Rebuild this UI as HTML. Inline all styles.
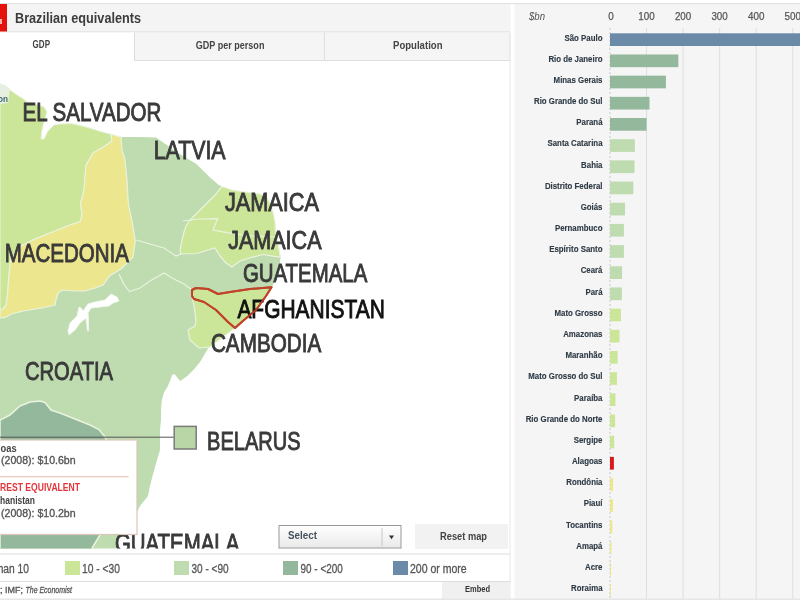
<!DOCTYPE html><html><head><meta charset="utf-8"><title>Brazilian equivalents</title><style>html,body{margin:0;padding:0;background:#fff;width:800px;height:600px;overflow:hidden}svg{display:block}text{font-family:"Liberation Sans",Arial,sans-serif}</style></head><body>
<svg width="800" height="600" viewBox="0 0 800 600">
<defs><clipPath id="mapclip"><rect x="0" y="61" width="509.5" height="487.5"/></clipPath><linearGradient id="selg" x1="0" y1="0" x2="0" y2="1"><stop offset="0" stop-color="#ffffff"/><stop offset="1" stop-color="#e9e9e9"/></linearGradient></defs>
<rect x="0" y="0" width="800" height="600" fill="#ffffff"/>
<rect x="514.5" y="4" width="285.5" height="596" fill="#f5f5f5"/>
<rect x="646.05" y="28" width="1" height="572" fill="#dedede"/>
<rect x="682.60" y="28" width="1" height="572" fill="#dedede"/>
<rect x="719.15" y="28" width="1" height="572" fill="#dedede"/>
<rect x="755.70" y="28" width="1" height="572" fill="#dedede"/>
<rect x="792.25" y="28" width="1" height="572" fill="#dedede"/>
<line x1="610.0" y1="28" x2="610.0" y2="600" stroke="#c9c9c9" stroke-width="1" stroke-dasharray="2,2"/>
<text x="529" y="20" font-size="11" font-style="italic" fill="#555" textLength="16" lengthAdjust="spacingAndGlyphs">$bn</text>
<text x="611.0" y="20" font-size="11.2" fill="#555" stroke="#555" stroke-width="0.25" text-anchor="middle" textLength="5.5" lengthAdjust="spacingAndGlyphs">0</text>
<text x="646.5" y="20" font-size="11.2" fill="#555" stroke="#555" stroke-width="0.25" text-anchor="middle" textLength="16.4" lengthAdjust="spacingAndGlyphs">100</text>
<text x="683.1" y="20" font-size="11.2" fill="#555" stroke="#555" stroke-width="0.25" text-anchor="middle" textLength="16.4" lengthAdjust="spacingAndGlyphs">200</text>
<text x="719.6" y="20" font-size="11.2" fill="#555" stroke="#555" stroke-width="0.25" text-anchor="middle" textLength="16.4" lengthAdjust="spacingAndGlyphs">300</text>
<text x="756.2" y="20" font-size="11.2" fill="#555" stroke="#555" stroke-width="0.25" text-anchor="middle" textLength="16.4" lengthAdjust="spacingAndGlyphs">400</text>
<text x="792.8" y="20" font-size="11.2" fill="#555" stroke="#555" stroke-width="0.25" text-anchor="middle" textLength="16.4" lengthAdjust="spacingAndGlyphs">500</text>
<rect x="610.0" y="33.30" width="195.18" height="12.7" fill="#6a8aa8"/>
<text x="602.5" y="40.50" font-size="9.5" font-weight="bold" fill="#2f3b45" stroke="#2f3b45" stroke-width="0.15" text-anchor="end" textLength="38.0" lengthAdjust="spacingAndGlyphs">São Paulo</text>
<rect x="610.0" y="54.48" width="68.35" height="12.7" fill="#94b89c"/>
<text x="602.5" y="61.68" font-size="9.5" font-weight="bold" fill="#2f3b45" stroke="#2f3b45" stroke-width="0.15" text-anchor="end" textLength="54.1" lengthAdjust="spacingAndGlyphs">Rio de Janeiro</text>
<rect x="610.0" y="75.66" width="55.92" height="12.7" fill="#94b89c"/>
<text x="602.5" y="82.86" font-size="9.5" font-weight="bold" fill="#2f3b45" stroke="#2f3b45" stroke-width="0.15" text-anchor="end" textLength="48.9" lengthAdjust="spacingAndGlyphs">Minas Gerais</text>
<rect x="610.0" y="96.84" width="39.47" height="12.7" fill="#94b89c"/>
<text x="602.5" y="104.04" font-size="9.5" font-weight="bold" fill="#2f3b45" stroke="#2f3b45" stroke-width="0.15" text-anchor="end" textLength="68.5" lengthAdjust="spacingAndGlyphs">Rio Grande do Sul</text>
<rect x="610.0" y="118.02" width="36.55" height="12.7" fill="#94b89c"/>
<text x="602.5" y="125.22" font-size="9.5" font-weight="bold" fill="#2f3b45" stroke="#2f3b45" stroke-width="0.15" text-anchor="end" textLength="26.2" lengthAdjust="spacingAndGlyphs">Paraná</text>
<rect x="610.0" y="139.20" width="24.85" height="12.7" fill="#bfdbb0"/>
<text x="602.5" y="146.40" font-size="9.5" font-weight="bold" fill="#2f3b45" stroke="#2f3b45" stroke-width="0.15" text-anchor="end" textLength="55.0" lengthAdjust="spacingAndGlyphs">Santa Catarina</text>
<rect x="610.0" y="160.38" width="24.49" height="12.7" fill="#bfdbb0"/>
<text x="602.5" y="167.58" font-size="9.5" font-weight="bold" fill="#2f3b45" stroke="#2f3b45" stroke-width="0.15" text-anchor="end" textLength="21.4" lengthAdjust="spacingAndGlyphs">Bahia</text>
<rect x="610.0" y="181.56" width="23.39" height="12.7" fill="#bfdbb0"/>
<text x="602.5" y="188.76" font-size="9.5" font-weight="bold" fill="#2f3b45" stroke="#2f3b45" stroke-width="0.15" text-anchor="end" textLength="57.6" lengthAdjust="spacingAndGlyphs">Distrito Federal</text>
<rect x="610.0" y="202.74" width="14.99" height="12.7" fill="#bfdbb0"/>
<text x="602.5" y="209.94" font-size="9.5" font-weight="bold" fill="#2f3b45" stroke="#2f3b45" stroke-width="0.15" text-anchor="end" textLength="21.8" lengthAdjust="spacingAndGlyphs">Goiás</text>
<rect x="610.0" y="223.92" width="13.89" height="12.7" fill="#bfdbb0"/>
<text x="602.5" y="231.12" font-size="9.5" font-weight="bold" fill="#2f3b45" stroke="#2f3b45" stroke-width="0.15" text-anchor="end" textLength="47.6" lengthAdjust="spacingAndGlyphs">Pernambuco</text>
<rect x="610.0" y="245.10" width="13.89" height="12.7" fill="#bfdbb0"/>
<text x="602.5" y="252.30" font-size="9.5" font-weight="bold" fill="#2f3b45" stroke="#2f3b45" stroke-width="0.15" text-anchor="end" textLength="53.3" lengthAdjust="spacingAndGlyphs">Espírito Santo</text>
<rect x="610.0" y="266.28" width="12.06" height="12.7" fill="#bfdbb0"/>
<text x="602.5" y="273.48" font-size="9.5" font-weight="bold" fill="#2f3b45" stroke="#2f3b45" stroke-width="0.15" text-anchor="end" textLength="21.8" lengthAdjust="spacingAndGlyphs">Ceará</text>
<rect x="610.0" y="287.46" width="11.88" height="12.7" fill="#bfdbb0"/>
<text x="602.5" y="294.66" font-size="9.5" font-weight="bold" fill="#2f3b45" stroke="#2f3b45" stroke-width="0.15" text-anchor="end" textLength="17.0" lengthAdjust="spacingAndGlyphs">Pará</text>
<rect x="610.0" y="308.64" width="10.96" height="12.7" fill="#cce699"/>
<text x="602.5" y="315.84" font-size="9.5" font-weight="bold" fill="#2f3b45" stroke="#2f3b45" stroke-width="0.15" text-anchor="end" textLength="48.0" lengthAdjust="spacingAndGlyphs">Mato Grosso</text>
<rect x="610.0" y="329.82" width="9.50" height="12.7" fill="#cce699"/>
<text x="602.5" y="337.02" font-size="9.5" font-weight="bold" fill="#2f3b45" stroke="#2f3b45" stroke-width="0.15" text-anchor="end" textLength="39.3" lengthAdjust="spacingAndGlyphs">Amazonas</text>
<rect x="610.0" y="351.00" width="7.68" height="12.7" fill="#cce699"/>
<text x="602.5" y="358.20" font-size="9.5" font-weight="bold" fill="#2f3b45" stroke="#2f3b45" stroke-width="0.15" text-anchor="end" textLength="37.1" lengthAdjust="spacingAndGlyphs">Maranhão</text>
<rect x="610.0" y="372.18" width="6.94" height="12.7" fill="#cce699"/>
<text x="602.5" y="379.38" font-size="9.5" font-weight="bold" fill="#2f3b45" stroke="#2f3b45" stroke-width="0.15" text-anchor="end" textLength="74.2" lengthAdjust="spacingAndGlyphs">Mato Grosso do Sul</text>
<rect x="610.0" y="393.36" width="5.48" height="12.7" fill="#cce699"/>
<text x="602.5" y="400.56" font-size="9.5" font-weight="bold" fill="#2f3b45" stroke="#2f3b45" stroke-width="0.15" text-anchor="end" textLength="28.4" lengthAdjust="spacingAndGlyphs">Paraíba</text>
<rect x="610.0" y="414.54" width="5.12" height="12.7" fill="#cce699"/>
<text x="602.5" y="421.74" font-size="9.5" font-weight="bold" fill="#2f3b45" stroke="#2f3b45" stroke-width="0.15" text-anchor="end" textLength="76.8" lengthAdjust="spacingAndGlyphs">Rio Grande do Norte</text>
<rect x="610.0" y="435.72" width="4.20" height="12.7" fill="#cce699"/>
<text x="602.5" y="442.92" font-size="9.5" font-weight="bold" fill="#2f3b45" stroke="#2f3b45" stroke-width="0.15" text-anchor="end" textLength="28.8" lengthAdjust="spacingAndGlyphs">Sergipe</text>
<rect x="610.0" y="456.90" width="3.87" height="12.7" fill="#d7191c"/>
<text x="602.5" y="464.10" font-size="9.5" font-weight="bold" fill="#2f3b45" stroke="#2f3b45" stroke-width="0.15" text-anchor="end" textLength="30.6" lengthAdjust="spacingAndGlyphs">Alagoas</text>
<rect x="610.0" y="478.08" width="3.11" height="12.7" fill="#ece68f"/>
<text x="602.5" y="485.28" font-size="9.5" font-weight="bold" fill="#2f3b45" stroke="#2f3b45" stroke-width="0.15" text-anchor="end" textLength="36.2" lengthAdjust="spacingAndGlyphs">Rondônia</text>
<rect x="610.0" y="499.26" width="2.92" height="12.7" fill="#ece68f"/>
<text x="602.5" y="506.46" font-size="9.5" font-weight="bold" fill="#2f3b45" stroke="#2f3b45" stroke-width="0.15" text-anchor="end" textLength="18.8" lengthAdjust="spacingAndGlyphs">Piauí</text>
<rect x="610.0" y="520.44" width="2.38" height="12.7" fill="#ece68f"/>
<text x="602.5" y="527.64" font-size="9.5" font-weight="bold" fill="#2f3b45" stroke="#2f3b45" stroke-width="0.15" text-anchor="end" textLength="36.5" lengthAdjust="spacingAndGlyphs">Tocantins</text>
<rect x="610.0" y="541.62" width="1.46" height="12.7" fill="#ece68f"/>
<text x="602.5" y="548.82" font-size="9.5" font-weight="bold" fill="#2f3b45" stroke="#2f3b45" stroke-width="0.15" text-anchor="end" textLength="26.2" lengthAdjust="spacingAndGlyphs">Amapá</text>
<rect x="610.0" y="562.80" width="1.10" height="12.7" fill="#ece68f"/>
<text x="602.5" y="570.00" font-size="9.5" font-weight="bold" fill="#2f3b45" stroke="#2f3b45" stroke-width="0.15" text-anchor="end" textLength="17.5" lengthAdjust="spacingAndGlyphs">Acre</text>
<rect x="610.0" y="583.98" width="0.91" height="12.7" fill="#ece68f"/>
<text x="602.5" y="591.18" font-size="9.5" font-weight="bold" fill="#2f3b45" stroke="#2f3b45" stroke-width="0.15" text-anchor="end" textLength="31.4" lengthAdjust="spacingAndGlyphs">Roraima</text>
<rect x="0" y="3" width="800" height="1.2" fill="#e2e2e2"/>
<rect x="0" y="4" width="510.5" height="28" fill="#f4f4f4"/>
<rect x="0" y="31.5" width="510" height="1" fill="#dcdcdc"/>
<rect x="0" y="4" width="7" height="27.5" fill="#e3120b"/>
<rect x="0" y="19" width="2" height="5" fill="#f7b5b0"/>
<text x="15" y="22.5" font-size="15" font-weight="bold" fill="#3c3c3c" textLength="126" lengthAdjust="spacingAndGlyphs">Brazilian equivalents</text>
<rect x="0" y="32.5" width="134" height="29" fill="#ffffff"/>
<rect x="134" y="32.5" width="376" height="28" fill="#f5f5f5"/>
<rect x="134" y="32.5" width="1" height="28.5" fill="#dddddd"/>
<rect x="323.9" y="32.5" width="1" height="28.5" fill="#dddddd"/>
<rect x="134" y="60" width="376" height="1" fill="#dddddd"/>
<rect x="509.5" y="32.5" width="1" height="28.5" fill="#dddddd"/>
<text x="32.6" y="48" font-size="11" font-weight="bold" fill="#444" textLength="17.4" lengthAdjust="spacingAndGlyphs">GDP</text>
<text x="195.8" y="48.8" font-size="11" font-weight="bold" fill="#444" textLength="68.6" lengthAdjust="spacingAndGlyphs">GDP per person</text>
<text x="393" y="48.8" font-size="11" font-weight="bold" fill="#444" textLength="49.5" lengthAdjust="spacingAndGlyphs">Population</text>
<rect x="509.5" y="61" width="1" height="539" fill="#e8e8e8"/>
<g clip-path="url(#mapclip)">
<polygon points="0,84 6,86 10,90 17,95 22,98 27,102 35,104 44,107 47,112 44,122 42,130 41,139 44,139 48,131 54,125 60,124 71,123.6 78,125 88,127.5 99,131 110,134 120,137 130,137 140,137 156,137.5 165,143.75 175,151 187.5,158.75 196,163.75 202.5,170 210,177.5 218.75,185 225,187.5 232,190 245,192 260,194 266,197 270,203 273,212 275,222 275.5,231 277.5,240 279,249 280.5,258 279,267.6 277,274 275,280.4 272,287 266,296 256,310 244,320 235,328 222,338 210,347 208.3,348 204.8,354 200,362 194.3,369 187.3,376 180.3,381 178,378.5 174.5,374 172,375 171,378.5 167.5,386.7 164,392.5 161.7,400.7 161,410 161,420 160,430 160,450 157,460 153,474 150,486 148,496 140,506 137,512 125,528 118,540 115,552 0,552" fill="#bfdbb0" stroke="none"/>
<polygon points="0,84 6,86 10,90 17,95 22,98 27,102 35,104 44,107 47,112 44,122 42,130 41,139 44,139 48,131 54,125 60,124 71,123.6 78,125 88,127.5 99,131 110,134 111,134 112,141 105,146 93,153 86,165.5 84,190 80.5,204 82,214.5 80.5,221.5 70,225 52.5,232 35,239 21,246 10.5,260 8.75,277.5 7.5,295 6,305.5 3,309 0,310" fill="#cce699" stroke="#eaf3df" stroke-width="1"/>
<polygon points="111,134 115,135.5 121,137 122,150 125,160 127,180 128.3,203 133,226.7 135.3,240.7 133,257 121.3,268.7 109.7,275.7 103,285 95,288 85,291 75,291 62,290 58,293 56,300 55,305 42,308 23.3,311 11.7,314 4.7,317.7 0,318 0,310 3,309 6,305.5 7.5,295 8.75,277.5 10.5,260 21,246 35,239 52.5,232 70,225 80.5,221.5 82,214.5 80.5,204 84,190 86,165.5 93,153 105,146 112,141 111,134" fill="#ece68f" stroke="#eaf3df" stroke-width="1.2"/>
<polygon points="0,84 6,86 10,89 9,96 8,103 0,104" fill="#e6efe0" stroke="none"/>
<polygon points="221.7,186.7 225,187.5 232,190 245,192 260,194 266,197 270,203 273,212 275,222 275.5,231 277.5,240 279,249 280.3,257 272.7,256.2 263.3,254.5 251.7,257.4 240,261 232,267 226,263 220,256 215,248 208,250 197,253.5 181,254 180,250 182,240 184,232 186,226 190,220 196,214 206,204 216,194" fill="#cce699" stroke="#eaf3df" stroke-width="1.2"/>
<polyline points="183,221 198,219 217.7,218.7 213,230 227,232.7 250,236 277,237" fill="none" stroke="#eaf3df" stroke-width="1.2"/>
<polyline points="136.5,240 150,244 164,248 176,256 181,254" fill="none" stroke="#eaf3df" stroke-width="1.2"/>
<polyline points="119,274 124,284.5 129.5,291.5 140,288 150,281 164,273 172,278 184,284 192,290" fill="none" stroke="#eaf3df" stroke-width="1.2"/>
<polygon points="192,296 194,299 204,302 216,310 228,322 235,328 222,338 210,347 199,348 190,340 188,330 195,326 196,320 194,306" fill="#cce699" stroke="#eaf3df" stroke-width="1.2"/>
<polygon points="0,420 10,415 20,406 30,402 40,401 45,402.5 51,410 60,413 75,419 90,425 99,429.5 105,437 110,450 114,480 110,520 100,535 92,548 90,560 0,560" fill="#94b89c" stroke="#eaf3df" stroke-width="1.5"/>
<polygon points="111,294 117,297 119,301 113,303 109,306 100,307 91,308 88,313 88.5,318 88.6,331 87.5,331 86,318 80,323 75,330 69,335 68,331 70,323 77,316 79,307 81,308 83,311 88,304 95,302 105,300 109,296" fill="#ffffff" stroke="#f4f8ef" stroke-width="0.8"/>
<polygon points="192,290 196,288 208,289 218,294 230,292 250,289 271.5,287.2 266,296 256,310 244,320 235,328 228,322 216,310 204,302 194,299 192,296" fill="#cce699" stroke="#c0442a" stroke-width="2" stroke-linejoin="round"/>
<text x="-2" y="101.5" font-size="9" font-weight="bold" fill="#3f6672" textLength="10" lengthAdjust="spacingAndGlyphs">on</text>
<text x="22.50" y="120.90" font-size="25.2" fill="#3a3a3a" stroke="#3a3a3a" stroke-width="0.9" textLength="138.80" lengthAdjust="spacingAndGlyphs">EL SALVADOR</text>
<text x="153.65" y="159.05" font-size="25.2" fill="#3a3a3a" stroke="#3a3a3a" stroke-width="0.9" textLength="71.90" lengthAdjust="spacingAndGlyphs">LATVIA</text>
<text x="224.90" y="210.80" font-size="25.2" fill="#3a3a3a" stroke="#3a3a3a" stroke-width="0.9" textLength="94.15" lengthAdjust="spacingAndGlyphs">JAMAICA</text>
<text x="228.15" y="249.05" font-size="25.2" fill="#3a3a3a" stroke="#3a3a3a" stroke-width="0.9" textLength="93.40" lengthAdjust="spacingAndGlyphs">JAMAICA</text>
<text x="4.80" y="261.90" font-size="25.2" fill="#3a3a3a" stroke="#3a3a3a" stroke-width="0.9" textLength="124.10" lengthAdjust="spacingAndGlyphs">MACEDONIA</text>
<text x="242.90" y="282.30" font-size="25.2" fill="#3a3a3a" stroke="#3a3a3a" stroke-width="0.9" textLength="124.40" lengthAdjust="spacingAndGlyphs">GUATEMALA</text>
<text x="237.40" y="317.80" font-size="25.2" fill="#111111" stroke="#111111" stroke-width="0.9" textLength="147.40" lengthAdjust="spacingAndGlyphs">AFGHANISTAN</text>
<text x="210.90" y="351.55" font-size="25.2" fill="#3a3a3a" stroke="#3a3a3a" stroke-width="0.9" textLength="110.40" lengthAdjust="spacingAndGlyphs">CAMBODIA</text>
<text x="24.90" y="380.30" font-size="25.2" fill="#3a3a3a" stroke="#3a3a3a" stroke-width="0.9" textLength="88.15" lengthAdjust="spacingAndGlyphs">CROATIA</text>
<text x="207.10" y="450.00" font-size="25.2" fill="#3a3a3a" stroke="#3a3a3a" stroke-width="0.9" textLength="93.60" lengthAdjust="spacingAndGlyphs">BELARUS</text>
<text x="114.90" y="552.30" font-size="25.2" fill="#3a3a3a" stroke="#3a3a3a" stroke-width="0.9" textLength="124.40" lengthAdjust="spacingAndGlyphs">GUATEMALA</text>
<polygon points="192,290 196,288 208,289 218,294 230,292 250,289 271.5,287.2 266,296 256,310 244,320 235,328 228,322 216,310 204,302 194,299 192,296" fill="none" stroke="#c0442a" stroke-width="2" stroke-linejoin="round" opacity="0.9"/>
<line x1="0" y1="437.2" x2="174" y2="437.2" stroke="#555" stroke-width="1"/>
<rect x="174.2" y="426.4" width="22" height="22.6" fill="#b9d7a6" stroke="#7a7a7a" stroke-width="1.5"/>
</g>
<rect x="-5" y="440" width="142" height="94.5" fill="#ffffff" stroke="#dcc5ba" stroke-width="1.2"/>
<text x="-19.7" y="451.6" font-size="11" font-weight="bold" fill="#444" textLength="36.3" lengthAdjust="spacingAndGlyphs">Alagoas</text>
<text x="-24.6" y="464" font-size="11" fill="#555" stroke="#555" stroke-width="0.35" textLength="100.2" lengthAdjust="spacingAndGlyphs">GDP (2008): $10.6bn</text>
<rect x="0" y="476" width="128.6" height="1.3" fill="#e9c9c1"/>
<text x="-18" y="491" font-size="11.2" font-weight="bold" fill="#e2363c" textLength="98" lengthAdjust="spacingAndGlyphs">NEAREST EQUIVALENT</text>
<text x="-14.2" y="504" font-size="11" font-weight="bold" fill="#444" textLength="49.2" lengthAdjust="spacingAndGlyphs">Afghanistan</text>
<text x="-24.6" y="517" font-size="11" fill="#555" stroke="#555" stroke-width="0.35" textLength="100.2" lengthAdjust="spacingAndGlyphs">GDP (2008): $10.2bn</text>
<rect x="279" y="525.5" width="122" height="22.5" fill="url(#selg)" stroke="#9a9a9a" stroke-width="1"/>
<rect x="381.5" y="528" width="1" height="18" fill="#c8c8c8"/>
<polygon points="389,535.5 394,535.5 391.5,539.2" fill="#333"/>
<text x="288" y="538.6" font-size="11" font-weight="bold" fill="#44525e" textLength="29" lengthAdjust="spacingAndGlyphs">Select</text>
<rect x="415" y="524" width="93" height="25" fill="#f2f2f2"/>
<text x="440" y="540" font-size="11" font-weight="bold" fill="#444" textLength="47" lengthAdjust="spacingAndGlyphs">Reset map</text>
<rect x="0" y="553.5" width="510" height="1" fill="#dddddd"/>
<rect x="0" y="581" width="510" height="1" fill="#dddddd"/>
<text x="-29.7" y="573" font-size="12.5" fill="#555" stroke="#555" stroke-width="0.3" textLength="58.7" lengthAdjust="spacingAndGlyphs">Less than 10</text>
<rect x="65" y="561" width="15" height="14" fill="#cce699"/>
<text x="82" y="573" font-size="12.5" fill="#555" stroke="#555" stroke-width="0.3" textLength="38" lengthAdjust="spacingAndGlyphs">10 - &lt;30</text>
<rect x="174" y="561" width="15" height="14" fill="#bfdbb0"/>
<text x="191.5" y="573" font-size="12.5" fill="#555" stroke="#555" stroke-width="0.3" textLength="37.1" lengthAdjust="spacingAndGlyphs">30 - &lt;90</text>
<rect x="283" y="561" width="15" height="14" fill="#94b89c"/>
<text x="300.6" y="573" font-size="12.5" fill="#555" stroke="#555" stroke-width="0.3" textLength="42.1" lengthAdjust="spacingAndGlyphs">90 - &lt;200</text>
<rect x="393" y="561" width="15" height="14" fill="#6a8aa8"/>
<text x="410" y="573" font-size="12.5" fill="#555" stroke="#555" stroke-width="0.3" textLength="56.7" lengthAdjust="spacingAndGlyphs">200 or more</text>
<text x="23" y="592.5" font-size="9" fill="#555" stroke="#555" stroke-width="0.3" text-anchor="end">Sources: IBGE; Economist Intelligence Unit; IMF;</text>
<text x="25.5" y="592.5" font-size="9" font-style="italic" fill="#555" stroke="#555" stroke-width="0.3" textLength="46.5" lengthAdjust="spacingAndGlyphs">The Economist</text>
<rect x="442" y="582" width="68" height="18" fill="#f0f0f0"/>
<text x="465" y="592" font-size="9.5" font-weight="bold" fill="#333" textLength="25" lengthAdjust="spacingAndGlyphs">Embed</text>
<rect x="0" y="598.5" width="800" height="1.5" fill="#e6e6e6"/>
</svg></body></html>
